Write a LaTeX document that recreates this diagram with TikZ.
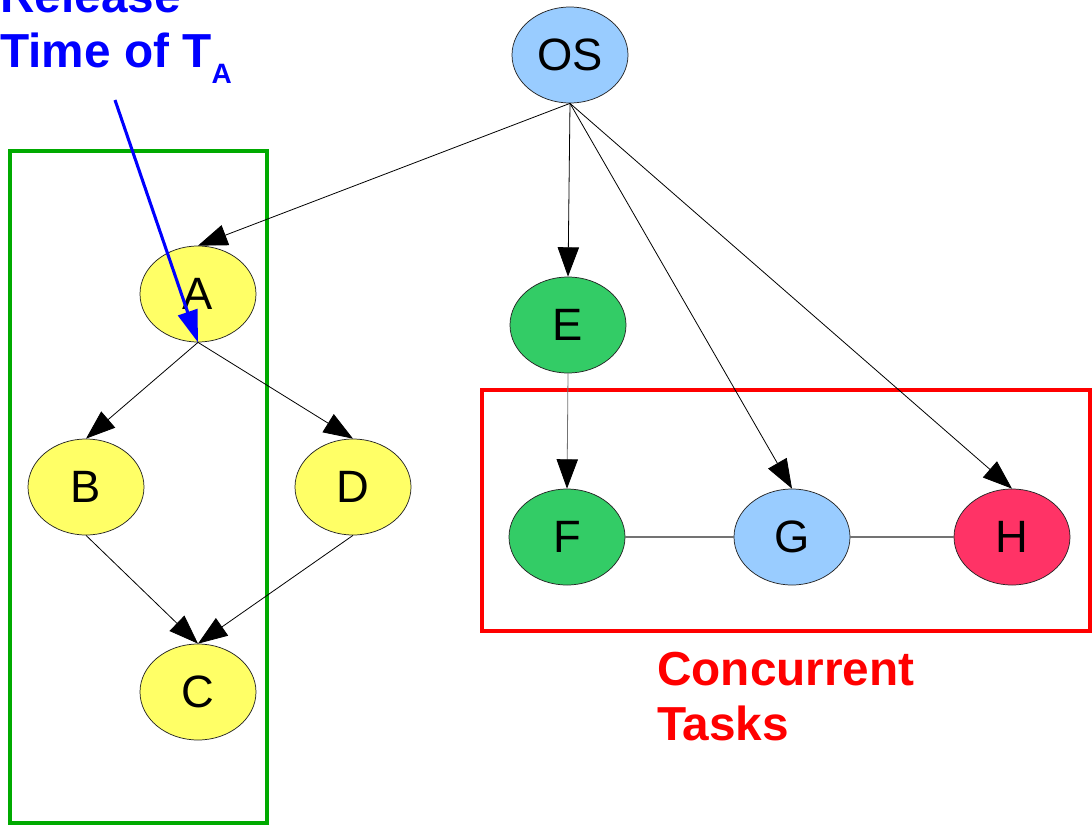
\documentclass[tikz,border=0pt]{standalone}
\usepackage{fontspec}
\setmainfont{Liberation Sans}
\usetikzlibrary{arrows.meta,shapes.geometric}
\definecolor{nyellow}{HTML}{FFFF66}
\definecolor{ngreen}{HTML}{33CC66}
\definecolor{nblue}{HTML}{99CCFF}
\definecolor{nred}{HTML}{FF3366}
\definecolor{boxgreen}{HTML}{00AA00}
\begin{document}
\begin{tikzpicture}[x=0.75pt, y=-0.75pt,
  task/.style={ellipse, draw=black!85, line width=0.55pt, minimum width=87pt, minimum height=72pt,
    inner sep=0pt, font=\fontsize{34}{40}\selectfont},
  edge/.style={draw=black, line width=0.6pt, -{Triangle[length=22pt, width=16pt, color=black]}},
  link/.style={draw=black!55, line width=0.9pt},
  label/.style={font=\fontsize{35.8}{41}\selectfont\bfseries, align=left, inner sep=0pt},
  group/.style={line width=2.3pt}
]
\useasboundingbox (0,0) rectangle (1092,825);

% groupings
\draw[group, boxgreen] (10,151) rectangle (267,823);
\draw[group, red] (482,390) rectangle (1090,631);

% tasks
\node[task, fill=nblue]   (OS) at (570,55)  {OS};
\node[task, fill=nyellow] (A)  at (198,294) {A};
\node[task, fill=nyellow] (B)  at (86,487)  {B};
\node[task, fill=nyellow] (D)  at (353,487) {D};
\node[task, fill=nyellow] (C)  at (198,692) {C};
\node[task, fill=ngreen]  (E)  at (568,325) {E};
\node[task, fill=ngreen]  (F)  at (567,537) {F};
\node[task, fill=nblue]   (G)  at (792,537) {G};
\node[task, fill=nred]    (H)  at (1012,537) {H};

% dependencies
\draw[edge] (OS.south) -- (A.north);
\draw[edge] (OS.south) -- (E.north);
\draw[edge] (OS.south) -- (G.north);
\draw[edge] (OS.south) -- (H.north);
\draw[edge] (A.south) -- (B.north);
\draw[edge] (A.south) -- (D.north);
\draw[edge] (B.south) -- (C.north);
\draw[edge] (D.south) -- (C.north);
\draw[edge, draw=black!55] (E.south) -- (F.north);
\draw[link] (F) -- (G);
\draw[link] (G) -- (H);

% annotations
\node[label, blue, anchor=base west] (rel) at (0,67)
  {Release\\Time of T\raisebox{-12pt}{\fontsize{21}{24}\selectfont A}};
\coordinate (relstart) at (115,100);
\draw[blue, line width=2.3pt, -{Triangle[length=24pt, width=15pt]}] (relstart) -- (A.south);
\node[label, red, anchor=base west] (conc) at (657,740) {Concurrent\\Tasks};
\end{tikzpicture}
\end{document}
